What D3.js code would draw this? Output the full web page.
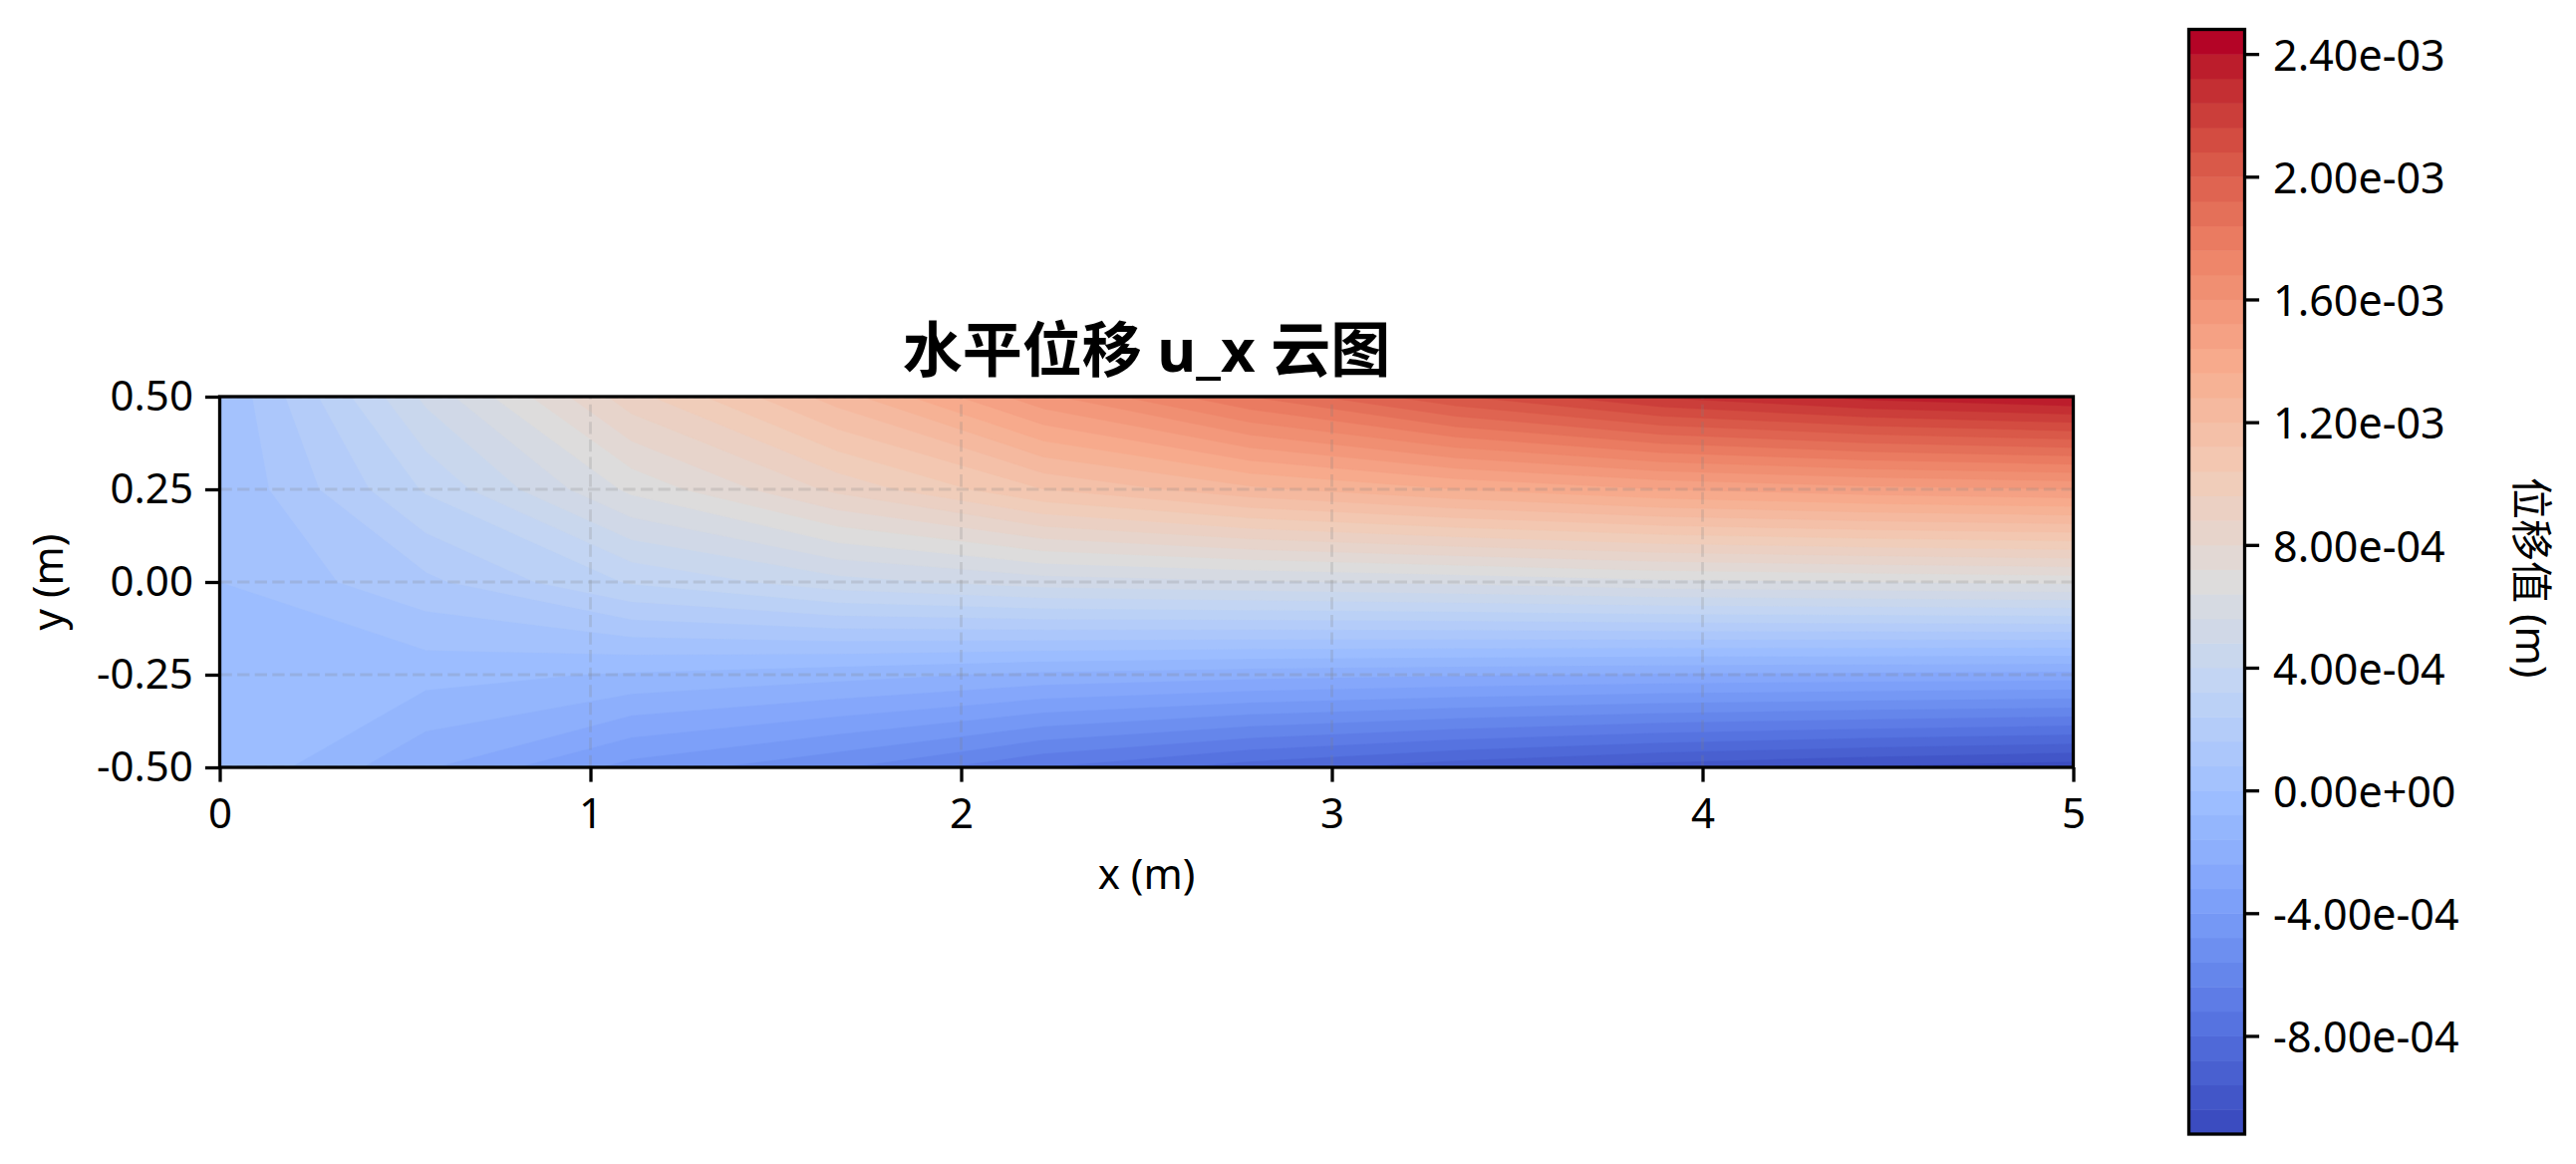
<!DOCTYPE html>
<html><head><meta charset="utf-8">
<script src="https://cdn.jsdelivr.net/npm/d3@7"></script>
<style>
html,body{margin:0;padding:0;background:#fff}
svg{display:block}
text{font-family:"Noto Sans","Noto Sans CJK SC",sans-serif;fill:#000}
</style></head><body>
<script>
// nodal displacement values (in 1e-3 m)
const xNodes=[0,0.556,1.111,1.667,2.222,2.778,3.333,3.889,4.444,5];
const yNodes=[0.5,0.25,0,-0.25,-0.5];
const rowTop   =[0.001,0.50,0.93,1.24,1.58,1.84,2.07,2.25,2.35,2.41];
const rowUpper =[0.001,0.33,0.66,0.90,1.12,1.26,1.36,1.44,1.49,1.52];
const rowMid   =[0,0.14,0.33,0.45,0.52,0.55,0.58,0.62,0.64,0.66];
const rowLower =[-0.001,-0.05,-0.09,-0.13,-0.18,-0.21,-0.23,-0.25,-0.26,-0.27];
const rowBottom=[-0.001,-0.23,-0.43,-0.55,-0.72,-0.84,-0.93,-1.00,-1.05,-1.09];
const levelMin=-1.12, levelStep=0.08, bandCount=45;
const xTicks=[0,1,2,3,4,5];
const yTicks=[-0.5,-0.25,0,0.25,0.5];
const cbarTicks=[-8e-4,-4e-4,0,4e-4,8e-4,1.2e-3,1.6e-3,2e-3,2.4e-3];
const coolwarmStops=[0,0.1,0.2,0.3,0.4,0.5,0.6,0.7,0.8,0.9,0.95,0.975,1];
const coolwarm=['#3b4cc0','#5977e3','#7b9ff9','#9ebeff','#c0d4f5','#dddcdc','#f2cbb7','#f7ac8e','#ee8468','#d65244','#c53334','#bd1f2d','#b40426'];

const W=2585,H=1168;
const plot={l:220.5,r:2080.5,t:398,b:770};
const bar={l:2196.5,r:2252.5,t:29.5,b:1138};
const FS=42, TICK=14.6, LW=3.3;

const svg=d3.select('body').append('svg').attr('width',W).attr('height',H).attr('viewBox',`0 0 ${W} ${H}`);
const x=d3.scaleLinear().domain([0,5]).range([plot.l,plot.r]);
const y=d3.scaleLinear().domain([-0.5,0.5]).range([plot.b,plot.t]);
const ramp=d3.scaleLinear().domain(coolwarmStops).range(coolwarm).interpolate(d3.interpolateRgb);
const bandColor=i=>ramp(i/(bandCount-1));
const levels=d3.range(bandCount).map(i=>+(levelMin+i*levelStep).toFixed(2));

// field
const rows=[rowTop,rowUpper,rowMid,rowLower,rowBottom];
const grid=rows.flat();
const nx=xNodes.length, ny=yNodes.length;
const contours=d3.contours().size([nx,ny]).smooth(true).thresholds(levels);
const xIdx=d3.scaleLinear().domain(d3.range(nx).map(i=>i+0.5)).range(xNodes);
const yIdx=d3.scaleLinear().domain(d3.range(ny).map(i=>i+0.5)).range(yNodes);
const geo=d3.geoPath(d3.geoTransform({point(px,py){this.stream.point(x(xIdx(px)),y(yIdx(py)));}}));

svg.append('defs').append('clipPath').attr('id','plotClip').append('rect')
 .attr('x',plot.l).attr('y',plot.t).attr('width',plot.r-plot.l).attr('height',plot.b-plot.t);
const field=svg.append('g').attr('clip-path','url(#plotClip)').append('g').style('filter','blur(0.7px)');
field.append('rect').attr('x',plot.l-10).attr('y',plot.t-10).attr('width',plot.r-plot.l+20).attr('height',plot.b-plot.t+20).attr('fill',bandColor(0));
field.selectAll('path').data(contours(grid)).join('path')
 .attr('d',geo).attr('fill',(d,i)=>bandColor(i)).attr('stroke',(d,i)=>bandColor(i)).attr('stroke-width',0.3);

// grid lines
const gridG=svg.append('g').attr('clip-path','url(#plotClip)')
 .attr('stroke','#808080').attr('stroke-opacity',0.22).attr('stroke-width',2.8).attr('stroke-dasharray','12.3 5.3');
gridG.selectAll('.gx').data(xTicks).join('line').attr('x1',d=>x(d)).attr('x2',d=>x(d)).attr('y1',plot.b).attr('y2',plot.t);
gridG.selectAll('.gy').data(yTicks).join('line').attr('y1',d=>y(d)).attr('y2',d=>y(d)).attr('x1',plot.l).attr('x2',plot.r);

// axes
function style(g,size){
 g.selectAll('.domain').remove();
 g.selectAll('.tick line').attr('stroke','#000').attr('stroke-width',LW);
 g.selectAll('.tick text').attr('font-size',size||FS).attr('fill','#000').attr('font-family','"Noto Sans","Noto Sans CJK SC",sans-serif');
}
svg.append('g').attr('transform',`translate(0,${plot.b})`)
 .call(d3.axisBottom(x).tickValues(xTicks).tickFormat(d3.format('d')).tickSize(TICK).tickPadding(17)).call(style);
svg.append('g').attr('transform',`translate(${plot.l},0)`)
 .call(d3.axisLeft(y).tickValues(yTicks).tickFormat(v=>v.toFixed(2)).tickSize(TICK).tickPadding(12)).call(style);
svg.append('rect').attr('x',plot.l).attr('y',plot.t).attr('width',plot.r-plot.l).attr('height',plot.b-plot.t)
 .attr('fill','none').attr('stroke','#000').attr('stroke-width',LW);

svg.append('text').attr('x',(plot.l+plot.r)/2).attr('y',373).attr('text-anchor','middle')
 .attr('font-size',60).attr('font-weight',700).text('水平位移 u_x 云图');
svg.append('text').attr('x',(plot.l+plot.r)/2).attr('y',892).attr('text-anchor','middle').attr('font-size',FS).text('x (m)');
svg.append('text').attr('transform',`translate(63,${(plot.t+plot.b)/2}) rotate(-90)`).attr('text-anchor','middle').attr('font-size',FS).text('y (m)');

// colorbar
const cy=d3.scaleLinear().domain([levelMin*1e-3,(levelMin+bandCount*levelStep)*1e-3]).range([bar.b,bar.t]);
svg.append('g').selectAll('rect').data(levels).join('rect')
 .attr('x',bar.l).attr('width',bar.r-bar.l)
 .attr('y',d=>cy((d+levelStep)*1e-3)).attr('height',d=>cy(d*1e-3)-cy((d+levelStep)*1e-3)+0.5)
 .attr('fill',(d,i)=>bandColor(i));
const sci=v=>{const s=Math.abs(v)<1e-12?'0.00e+00':v.toExponential(2);return s.replace(/e([+-])(\d)$/,'e$10$2');};
const cbarAxis=svg.append('g').attr('transform',`translate(${bar.r},0)`)
 .call(d3.axisRight(cy).tickValues(cbarTicks).tickFormat(sci).tickSize(TICK).tickPadding(14)).call(g=>style(g,43));
cbarAxis.selectAll('.tick text').attr('dy','0.38em');
svg.append('rect').attr('x',bar.l).attr('y',bar.t).attr('width',bar.r-bar.l).attr('height',bar.b-bar.t)
 .attr('fill','none').attr('stroke','#000').attr('stroke-width',LW);
svg.append('text').attr('transform',`translate(2525,${(bar.t+bar.b)/2-4}) rotate(90)`).attr('text-anchor','middle').attr('font-size',FS).text('位移值 (m)');
</script>
</body></html>
